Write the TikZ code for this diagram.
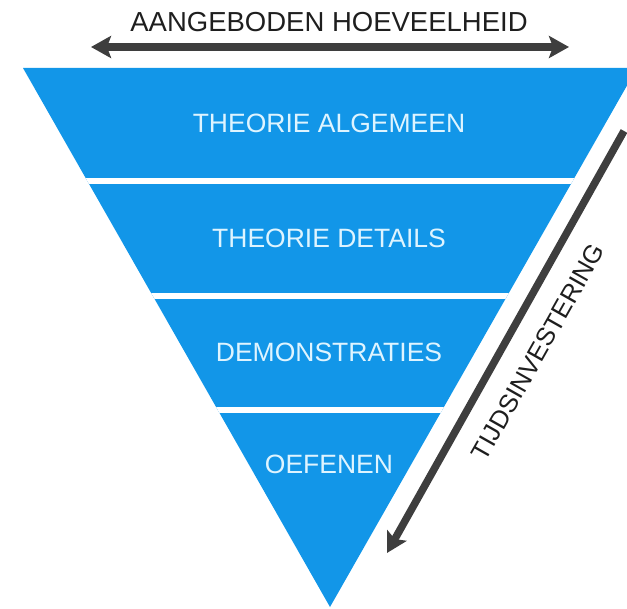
\documentclass[tikz,border=0pt]{standalone}
\usepackage{fontspec}
\setmainfont{Liberation Sans}
\usetikzlibrary{arrows.meta}
\definecolor{triblue}{RGB}{18,150,232}
\definecolor{labtxt}{RGB}{222,244,255}
\definecolor{arrgray}{RGB}{62,62,62}
\definecolor{toptxt}{RGB}{30,30,30}
\tikzset{
  bandlabel/.style={text=labtxt, font=\fontsize{26.5}{29}\selectfont, inner sep=0pt, anchor=base},
  toplabel/.style={text=toptxt, font=\fontsize{27.5}{30}\selectfont, inner sep=0pt, anchor=base},
  sidelabel/.style={text=toptxt, font=\fontsize{25.5}{28}\selectfont, inner sep=0pt, rotate=60.5},
  bigarrow/.style={draw=arrgray, line width=7.5pt},
  sep/.style={draw=white, line width=6pt}
}
\begin{document}
\begin{tikzpicture}[x=1pt,y=-1pt]
\useasboundingbox (0,0) rectangle (627,609);
\begin{scope}
\clip (0,0) rectangle (627,609);
% triangle
\coordinate (tl) at (23,68);
\coordinate (tr) at (637,68);
\coordinate (apex) at (330,607);
\fill[triblue] (tl) -- (tr) -- (apex) -- cycle;
\begin{scope}
\clip (tl) -- (tr) -- (apex) -- cycle;
\coordinate (s1l) at (0,181); \coordinate (s1r) at (640,181);
\coordinate (s2l) at (0,296); \coordinate (s2r) at (640,296);
\coordinate (s3l) at (0,410); \coordinate (s3r) at (640,410);
\draw[sep] (s1l) -- (s1r);
\draw[sep] (s2l) -- (s2r);
\draw[sep] (s3l) -- (s3r);
\end{scope}
\end{scope}
% band labels
\node[bandlabel] (l1) at (329,133) {THEORIE ALGEMEEN};
\node[bandlabel] (l2) at (329,248) {THEORIE DETAILS};
\node[bandlabel] (l3) at (329,362) {DEMONSTRATIES};
\node[bandlabel] (l4) at (329,474) {OEFENEN};
% top arrow
\node[toplabel] (top) at (329,32) {AANGEBODEN HOEVEELHEID};
\coordinate (al) at (91,47);
\coordinate (ar) at (569,47);
\draw[bigarrow, {Stealth[length=20pt,width=22pt,inset=4pt]}-{Stealth[length=20pt,width=22pt,inset=4pt]}] (al) -- (ar);
% side arrow
\coordinate (rs) at (624,131);
\coordinate (re) at (387,553);
\draw[bigarrow, -{Stealth[length=20pt,width=22pt,inset=4pt]}] (rs) -- (re);
\node[sidelabel] (side) at (538,352) {TIJDSINVESTERING};
\end{tikzpicture}
\end{document}
